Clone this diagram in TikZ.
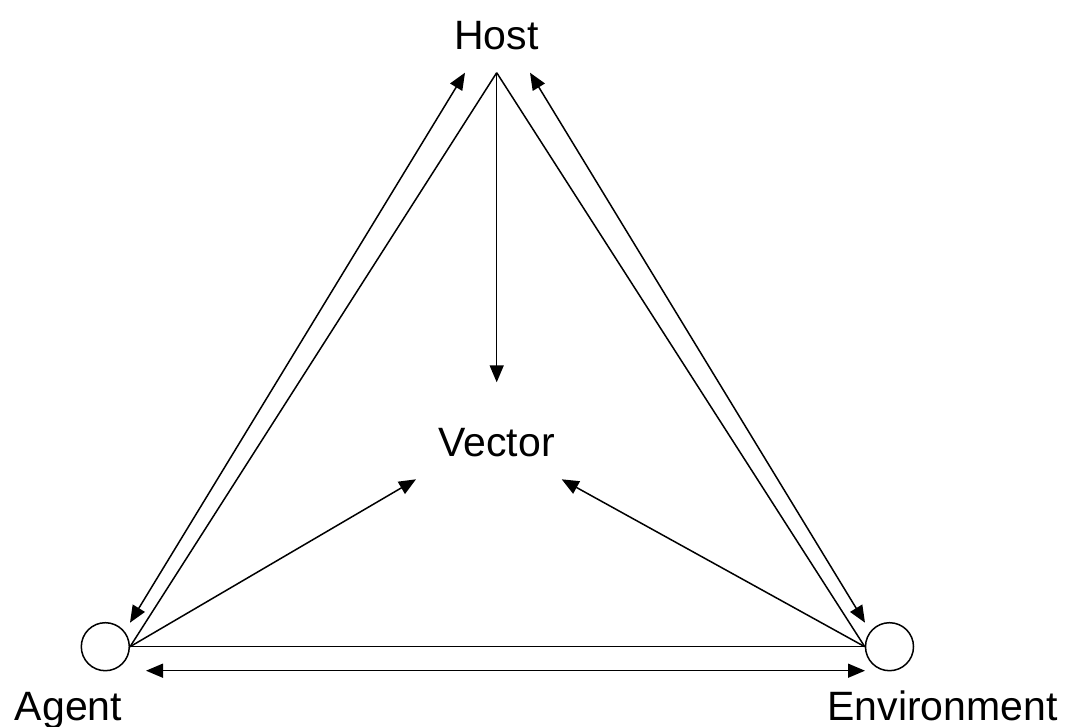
\documentclass[tikz,border=0pt]{standalone}
\usepackage{fontspec}
\setmainfont{Liberation Sans}
\usetikzlibrary{arrows.meta}
\begin{document}
\begin{tikzpicture}[x=1pt,y=-1pt,
  lbl/.style={anchor=base,inner sep=0pt,font=\fontsize{41}{49}\selectfont},
  circ/.style={circle,draw,line width=1.5pt,minimum size=48pt,inner sep=0pt},
  ln/.style={line width=1.5pt},
  arr/.style={line width=1.5pt,-{Triangle[length=17pt,width=14pt]}},
  darr/.style={line width=1.5pt,{Triangle[length=17pt,width=14pt]}-{Triangle[length=17pt,width=14pt]}}]
\useasboundingbox (0,0) rectangle (1065,727);
\node[lbl] (host) at (496.5,50) {Host};
\node[lbl] (vector) at (496.7,456.7) {Vector};
\node[lbl] (agentlbl) at (68.5,720) {Agent};
\node[lbl] (envlbl) at (942.5,720) {Environment};
\node[circ] (agent) at (105.3,646.7) {};
\node[circ] (env) at (889.5,646.7) {};
\coordinate (apex) at (496.7,72.7);
\coordinate (hl) at (465,72.7);
\coordinate (hr) at (530,72.7);
\coordinate (al) at (130,622.7);
\coordinate (er) at (865,622.7);
\coordinate (vd) at (496.7,382.3);
\coordinate (vl) at (416,479.3);
\coordinate (vr) at (561.7,479.3);
\coordinate (bl) at (146,670.7);
\coordinate (br) at (865,670.7);
\draw[ln] (apex) -- (agent.east);
\draw[ln] (apex) -- (env.west);
\draw[ln] (agent.east) -- (env.west);
\draw[arr] (apex) -- (vd);
\draw[arr] (agent.east) -- (vl);
\draw[arr] (env.west) -- (vr);
\draw[darr] (al) -- (hl);
\draw[darr] (er) -- (hr);
\draw[darr] (bl) -- (br);
\end{tikzpicture}
\end{document}
